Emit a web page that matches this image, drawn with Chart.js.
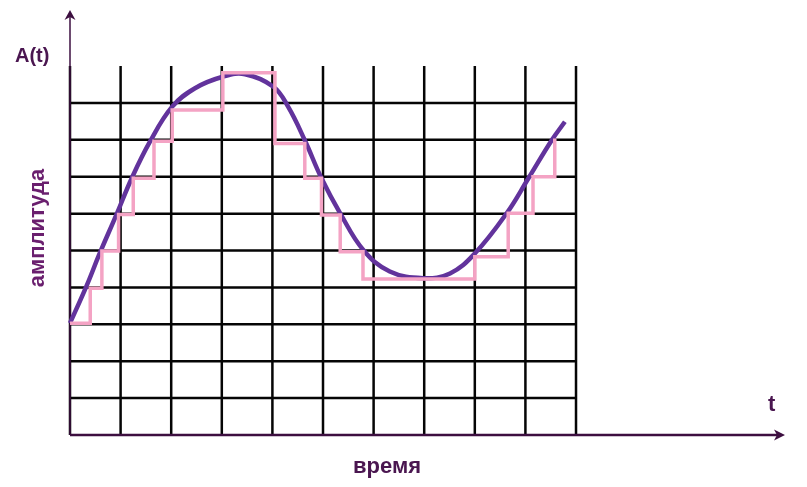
<!DOCTYPE html>
<html lang="ru">
<head>
<meta charset="utf-8">
<title>Дискретизация сигнала</title>
<script src="https://cdn.jsdelivr.net/npm/chart.js@4.4.1/dist/chart.umd.min.js"></script>
<style>
  html, body { margin: 0; padding: 0; background: #fff; }
  #wrap { position: relative; width: 807px; height: 487px; }
</style>
</head>
<body>
<div id="wrap"><canvas id="signalChart"></canvas></div>
<script>
// Grid lines (in grid cells)
const timeTicks = [0, 1, 2, 3, 4, 5, 6, 7, 8, 9, 10];
const ampTicks = [1, 2, 3, 4, 5, 6, 7, 8, 9];
const gridTop = 10;
const gridRight = 10;
// where the axis arrows end
const xMax = 14.13;
const yMax = 11.52;

// Analog signal (purple curve)
const signalT = [0, 0.33, 0.58, 0.92, 1.22, 1.58, 2.02, 2.47, 3.02, 3.46, 4.02, 4.31, 4.64, 4.97, 5.34, 5.80, 6.32, 6.98, 7.51, 8.00, 8.63, 9.06, 9.52, 9.78];
const signalA = [3.03, 4.05, 4.90, 5.98, 6.96, 7.95, 8.90, 9.40, 9.71, 9.78, 9.44, 8.90, 7.99, 6.96, 6.01, 5.01, 4.43, 4.25, 4.38, 4.92, 6.01, 6.96, 7.99, 8.49];

// Quantized signal (pink steps): level held until the time of the next jump
const stepT = [0, 0.40, 0.63, 0.96, 1.25, 1.66, 2.02, 3.02, 4.05, 4.64, 4.97, 5.34, 5.79, 8.00, 8.66, 9.15, 9.58];
const stepA = [3.03, 3.98, 4.99, 5.98, 6.96, 7.96, 8.81, 9.82, 7.90, 6.96, 5.96, 4.97, 4.23, 4.83, 6.01, 7.00, 8.04];

// Labels
const yTitle = 'A(t)';
const xSymbol = 't';
const xTitle = 'время';
const yName = 'амплитуда';

const axisColor = '#3d0f40';
const textFont = '"Liberation Sans", Arial, sans-serif';

function toPoints(xs, ys) {
    return xs.map((x, i) => ({ x: x, y: ys[i] }));
}

// Grid, axes with arrows and the text labels
const schematicPlugin = {
    id: 'schematic',
    beforeDatasetsDraw(chart) {
        const { ctx, scales: { x, y } } = chart;
        ctx.save();

        // grid
        ctx.strokeStyle = '#050505';
        ctx.lineWidth = 2.5;
        ctx.beginPath();
        timeTicks.forEach(t => {
            const px = x.getPixelForValue(t);
            ctx.moveTo(px, y.getPixelForValue(0));
            ctx.lineTo(px, y.getPixelForValue(gridTop));
        });
        ampTicks.forEach(a => {
            const py = y.getPixelForValue(a);
            ctx.moveTo(x.getPixelForValue(0), py);
            ctx.lineTo(x.getPixelForValue(gridRight), py);
        });
        ctx.stroke();

        // axes
        const ox = x.getPixelForValue(0);
        const oy = y.getPixelForValue(0);
        const xEnd = x.getPixelForValue(xMax);
        const yEnd = y.getPixelForValue(yMax);
        ctx.strokeStyle = axisColor;
        ctx.fillStyle = axisColor;
        ctx.lineWidth = 2.5;
        ctx.beginPath();
        ctx.moveTo(ox, oy);
        ctx.lineTo(xEnd - 4, oy);
        ctx.stroke();
        ctx.lineWidth = 1.5;
        ctx.beginPath();
        ctx.moveTo(ox, oy);
        ctx.lineTo(ox, yEnd + 4);
        ctx.stroke();

        // arrow heads
        ctx.beginPath();
        ctx.moveTo(xEnd, oy);
        ctx.lineTo(xEnd - 11, oy - 5.5);
        ctx.lineTo(xEnd - 8, oy);
        ctx.lineTo(xEnd - 11, oy + 5.5);
        ctx.closePath();
        ctx.fill();

        ctx.beginPath();
        ctx.moveTo(ox, yEnd);
        ctx.lineTo(ox - 5.5, yEnd + 10);
        ctx.lineTo(ox, yEnd + 7);
        ctx.lineTo(ox + 5.5, yEnd + 10);
        ctx.closePath();
        ctx.fill();

        ctx.restore();
    },
    afterDraw(chart) {
        const { ctx } = chart;
        ctx.save();
        ctx.textBaseline = 'alphabetic';
        ctx.fillStyle = '#4a1650';

        ctx.font = 'bold 20px ' + textFont;
        ctx.textAlign = 'left';
        ctx.fillText(yTitle, 15, 62);

        ctx.font = 'bold 22px ' + textFont;
        ctx.fillText(xSymbol, 768, 411);

        ctx.textAlign = 'center';
        ctx.fillText(xTitle, 387, 473);

        ctx.fillStyle = '#6a1f6e';
        ctx.translate(44, 228);
        ctx.rotate(-Math.PI / 2);
        ctx.fillText(yName, 0, 0);
        ctx.restore();
    }
};

const chart = new Chart(document.getElementById('signalChart'), {
    type: 'line',
    data: {
        datasets: [
            {
                label: 'квантованный сигнал',
                data: toPoints(stepT, stepA),
                stepped: 'before',
                borderColor: '#f4a3c4',
                borderWidth: 3.5,
                pointRadius: 0,
                fill: false,
                clip: false,
                order: 0
            },
            {
                label: 'сигнал',
                data: toPoints(signalT, signalA),
                borderColor: '#62339c',
                borderWidth: 4.5,
                pointRadius: 0,
                tension: 0.4,
                fill: false,
                clip: false,
                order: 1
            }
        ]
    },
    options: {
        responsive: true,
        maintainAspectRatio: false,
        animation: false,
        events: [],
        layout: {
            padding: { left: 70, right: 22, top: 10, bottom: 52 }
        },
        plugins: {
            legend: { display: false },
            tooltip: { enabled: false }
        },
        scales: {
            x: { type: 'linear', min: 0, max: xMax, display: false },
            y: { type: 'linear', min: 0, max: yMax, display: false }
        }
    },
    plugins: [schematicPlugin]
});
</script>
</body>
</html>
